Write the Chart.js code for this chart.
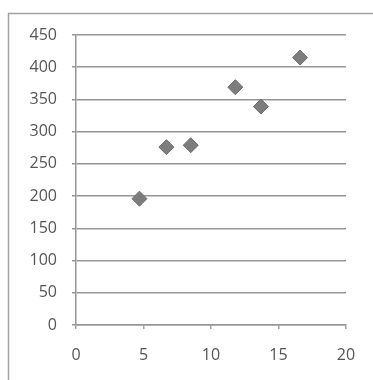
<!DOCTYPE html>
<html>
<head>
<meta charset="utf-8">
<script src="https://cdn.jsdelivr.net/npm/chart.js@4"></script>
<style>
  html, body { margin: 0; padding: 0; background: #fff; }
  #wrap { width: 373px; height: 380px; position: relative; }
</style>
</head>
<body>
<div id="wrap"><canvas id="c"></canvas></div>
<script>
const xValues = [4.7, 6.7, 8.5, 11.8, 13.7, 16.6];
const yValues = [196, 276, 279, 369, 339, 415];
const xTicks = [0, 5, 10, 15, 20];
const yTicks = [0, 50, 100, 150, 200, 250, 300, 350, 400, 450];

const points = xValues.map((x, i) => ({ x: x, y: yValues[i] }));

const frame = {
  id: 'frame',
  beforeDraw(chart) {
    const ctx = chart.ctx;
    ctx.save();
    ctx.fillStyle = '#ffffff';
    ctx.fillRect(0, 0, chart.width, chart.height);
    ctx.strokeStyle = '#a3a3a3';
    ctx.lineWidth = 1.5;
    ctx.strokeRect(8.5, 13.5, 420, 420);
    ctx.restore();
  }
};

new Chart(document.getElementById('c'), {
  type: 'scatter',
  data: {
    datasets: [{
      data: points,
      pointStyle: 'rectRot',
      pointRadius: 7.5,
      pointHoverRadius: 7.5,
      backgroundColor: '#7d7d7d',
      borderColor: '#6e6e6e',
      borderWidth: 1
    }]
  },
  options: {
    responsive: true,
    maintainAspectRatio: false,
    animation: false,
    events: [],
    layout: { padding: { left: 0, top: 35, right: 27, bottom: 0 } },
    plugins: { legend: { display: false }, tooltip: { enabled: false } },
    scales: {
      x: {
        type: 'linear',
        min: xTicks[0],
        max: xTicks[xTicks.length - 1],
        afterBuildTicks(scale) { scale.ticks = xTicks.map(v => ({ value: v })); },
        afterFit(scale) { scale.height = 55; },
        grid: { drawOnChartArea: false, drawTicks: true, tickLength: 4, color: '#a0a0a0', lineWidth: 1.5 },
        border: { display: true, color: '#969696', width: 1.5 },
        ticks: { color: '#555555', font: { family: 'Open Sans', size: 16 }, padding: 17, maxRotation: 0 }
      },
      y: {
        type: 'linear',
        min: yTicks[0],
        max: yTicks[yTicks.length - 1],
        afterBuildTicks(scale) { scale.ticks = yTicks.map(v => ({ value: v })); },
        afterFit(scale) { scale.width = 76; },
        grid: { drawOnChartArea: true, drawTicks: true, tickLength: 4, color: '#969696', lineWidth: 1.5 },
        border: { display: true, color: '#969696', width: 1.5 },
        ticks: { color: '#555555', font: { family: 'Open Sans', size: 16 }, padding: 15 }
      }
    }
  },
  plugins: [frame]
});
</script>
</body>
</html>
